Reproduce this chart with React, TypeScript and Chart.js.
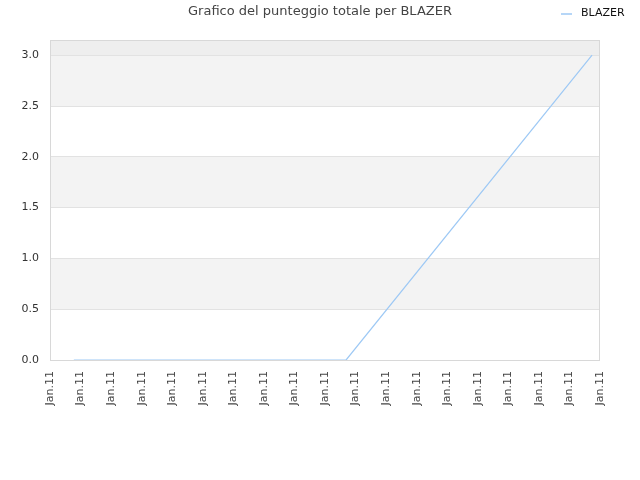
import React, { useEffect, useRef } from 'react';
import { Chart, registerables } from 'chart.js';

Chart.register(...registerables);

const title = 'Grafico del punteggio totale per BLAZER';
const seriesName = 'BLAZER';
// x positions in tick units (19 ticks, all labelled "Jan.11")
const tickLabels = Array.from({ length: 19 }, () => 'Jan.11');
const pointX = [0.78, 9.69, 17.74];
const pointY = [0, 0, 3];

const lineColor = '#9ec9f5';
const font = 'DejaVu Sans';

const App: React.FC = () => {
  const canvasRef = useRef<HTMLCanvasElement | null>(null);
  const chartInstance = useRef<Chart | null>(null);

  useEffect(() => {
    document.body.style.margin = '0';
    const canvas = canvasRef.current;
    if (!canvas) return;
    const ctx = canvas.getContext('2d');
    if (!ctx) return;

    if (chartInstance.current) chartInstance.current.destroy();

    chartInstance.current = new Chart(ctx, {
      type: 'line',
      data: {
        datasets: [
          {
            label: seriesName,
            data: pointX.map((x, i) => ({ x, y: pointY[i] })),
            borderColor: lineColor,
            borderWidth: 1.2,
            pointRadius: 0,
            tension: 0,
            fill: false,
          },
        ],
      },
      options: {
        animation: false,
        responsive: true,
        maintainAspectRatio: false,
        layout: { padding: { left: 0, right: 40, top: 40, bottom: 0 } },
        plugins: {
          legend: { display: false },
          title: { display: false },
          tooltip: { enabled: false },
        },
        scales: {
          x: {
            type: 'linear',
            min: 0,
            max: tickLabels.length - 1,
            ticks: {
              stepSize: 1,
              autoSkip: false,
              minRotation: 90,
              maxRotation: 90,
              color: '#444',
              font: { family: font, size: 11 },
              callback: (v) => tickLabels[Number(v)] ?? '',
            },
            grid: { display: false },
            border: { display: false },
            afterFit: (s) => {
              s.height = 120;
            },
          },
          y: {
            min: 0,
            max: 3.15,
            ticks: {
              stepSize: 0.5,
              includeBounds: false,
              color: '#333',
              font: { family: font, size: 11 },
              callback: (v) => Number(v).toFixed(1),
            },
            grid: { color: '#e2e2e2', drawTicks: true, tickLength: 8, tickColor: 'rgba(0,0,0,0)' },
            border: { display: false },
            afterFit: (s) => {
              s.width = 50;
            },
          },
        },
      },
      plugins: [
        {
          id: 'bands',
          beforeDraw(chart) {
            const { ctx, chartArea: a, scales } = chart;
            const y = scales.y;
            ctx.save();
            const ticks = y.ticks.map((t) => t.value);
            for (let i = 0; i < ticks.length; i++) {
              const lo = ticks[i];
              const hi = i + 1 < ticks.length ? ticks[i + 1] : (y.max as number);
              if (i === ticks.length - 1) ctx.fillStyle = '#eeeeee';
              else ctx.fillStyle = i % 2 === 1 ? '#f3f3f3' : '#ffffff';
              const top = y.getPixelForValue(hi);
              const bot = y.getPixelForValue(lo);
              ctx.fillRect(a.left, top, a.right - a.left, bot - top);
            }
            ctx.restore();
          },
          afterDraw(chart) {
            const { ctx, chartArea: a, width } = chart;
            ctx.save();
            ctx.strokeStyle = '#d8d8d8';
            ctx.lineWidth = 1;
            ctx.strokeRect(a.left + 0.5, a.top + 0.5, a.right - a.left - 1, a.bottom - a.top);
            // title
            ctx.fillStyle = '#444';
            ctx.font = `13px "${font}"`;
            ctx.textAlign = 'center';
            ctx.textBaseline = 'middle';
            ctx.fillText(title, width / 2, 12);
            // legend
            ctx.strokeStyle = lineColor;
            ctx.lineWidth = 1.5;
            ctx.beginPath();
            ctx.moveTo(561, 14);
            ctx.lineTo(572, 14);
            ctx.stroke();
            ctx.fillStyle = '#111';
            ctx.font = `11px "${font}"`;
            ctx.textAlign = 'left';
            ctx.fillText(seriesName, 581, 13);
            ctx.restore();
          },
        },
      ],
    });

    return () => {
      if (chartInstance.current) {
        chartInstance.current.destroy();
        chartInstance.current = null;
      }
    };
  }, []);

  return (
    <div style={{ position: 'absolute', left: 0, top: 0, width: '640px', height: '480px' }}>
      <canvas ref={canvasRef}></canvas>
    </div>
  );
};

export default App;
